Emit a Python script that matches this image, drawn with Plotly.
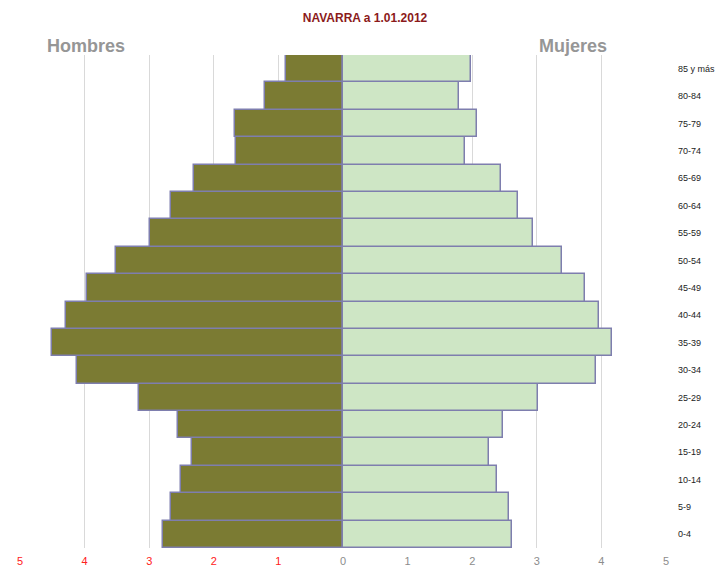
import plotly.graph_objects as go

# Age groups, youngest first (bottom of the pyramid)
AGE_GROUPS = [
    "0-4", "5-9", "10-14", "15-19", "20-24", "25-29", "30-34", "35-39",
    "40-44", "45-49", "50-54", "55-59", "60-64", "65-69", "70-74",
    "75-79", "80-84", "85 y más",
]

# Percentage of total population
HOMBRES = [2.79, 2.67, 2.51, 2.34, 2.56, 3.16, 4.12, 4.51, 4.29, 3.97,
           3.52, 2.98, 2.67, 2.31, 1.65, 1.67, 1.20, 0.89]
MUJERES = [2.62, 2.57, 2.38, 2.26, 2.48, 3.02, 3.91, 4.17, 3.96, 3.75,
           3.39, 2.94, 2.71, 2.44, 1.89, 2.07, 1.79, 1.98]

TICK_VALUES = [-5, -4, -3, -2, -1, 0, 1, 2, 3, 4, 5]
TICK_LABELS = ["5", "4", "3", "2", "1", "0", "1", "2", "3", "4", "5"]

COLOR_MEN = "#7B7B33"
COLOR_WOMEN = "#CEE6C5"
COLOR_EDGE = "#7E7EAE"
COLOR_TITLE = "#8B1A1A"
COLOR_HEADER = "#969696"
COLOR_GRID = "#D9D9D9"
COLOR_RED = "#FF2020"
COLOR_TICK = "#8C8C8C"

# page body has an 8px default margin, so the figure is drawn 8px smaller
W, H = 717, 562

tick_text = []
for v, lbl in zip(TICK_VALUES, TICK_LABELS):
    c = COLOR_RED if v < 0 else COLOR_TICK
    tick_text.append(f"<span style='color:{c}'>{lbl}</span>")

fig = go.Figure()
fig.add_trace(go.Bar(
    y=AGE_GROUPS, x=[-v for v in HOMBRES], orientation="h", name="Hombres",
    marker=dict(color=COLOR_MEN, line=dict(color=COLOR_EDGE, width=1.5)),
))
fig.add_trace(go.Bar(
    y=AGE_GROUPS, x=MUJERES, orientation="h", name="Mujeres",
    marker=dict(color=COLOR_WOMEN, line=dict(color=COLOR_EDGE, width=1.5)),
))

fig.update_layout(
    width=W, height=H,
    barmode="relative", bargap=0,
    showlegend=False,
    paper_bgcolor="white", plot_bgcolor="white",
    font=dict(family="Liberation Sans, Arial, sans-serif", color="#222222"),
    margin=dict(l=12, r=59, t=47, b=22),
    title=dict(text="<b>NAVARRA a 1.01.2012</b>", x=357 / W, xanchor="center",
               y=1 - 10 / H, yanchor="middle",
               font=dict(size=12, color=COLOR_TITLE)),
    xaxis=dict(range=[-5, 5], tickvals=TICK_VALUES, ticktext=tick_text,
               showgrid=True, gridcolor=COLOR_GRID, gridwidth=1,
               zeroline=False, showline=False, ticks="", automargin=False,
               ticklabelstandoff=5,
               tickfont=dict(size=11, color=COLOR_TICK)),
    yaxis=dict(side="right", categoryorder="array", categoryarray=AGE_GROUPS,
               showgrid=False, zeroline=False, showline=False, ticks="",
               automargin=False, ticklabelstandoff=11,
               tickfont=dict(size=9, color="#222222")),
    annotations=[
        dict(text="<b>Hombres</b>", xref="paper", yref="paper",
             x=(86 - 20) / 646, y=1 + 9 / 493, xanchor="center",
             yanchor="middle", showarrow=False,
             font=dict(size=18, color=COLOR_HEADER)),
        dict(text="<b>Mujeres</b>", xref="paper", yref="paper",
             x=(573 - 20) / 646, y=1 + 9 / 493, xanchor="center",
             yanchor="middle", showarrow=False,
             font=dict(size=18, color=COLOR_HEADER)),
    ],
)

fig.write_html("out.html")
